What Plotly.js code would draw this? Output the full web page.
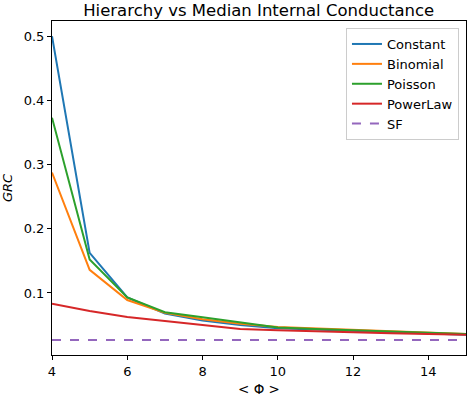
<!DOCTYPE html>
<html>
<head>
<meta charset="utf-8">
<script src="https://cdn.plot.ly/plotly-3.0.1.min.js"></script>
<style>
  html, body { margin: 0; padding: 0; background: #fff; }
  #chart { width: 467px; height: 397px; }
</style>
</head>
<body>
<div id="chart"></div>
<script>
const degrees = [4, 5, 6, 7, 8, 9, 10, 11, 12, 13, 14, 15];
const constant = [0.500, 0.1625, 0.093, 0.068, 0.057, 0.050, 0.045, 0.043, 0.041, 0.039, 0.037, 0.035];
const binomial = [0.2875, 0.136, 0.089, 0.069, 0.059, 0.052, 0.047, 0.045, 0.043, 0.041, 0.039, 0.036];
const poisson = [0.373, 0.152, 0.093, 0.070, 0.062, 0.054, 0.046, 0.044, 0.042, 0.040, 0.038, 0.036];
const powerLaw = [0.083, 0.072, 0.0625, 0.056, 0.050, 0.044, 0.042, 0.040, 0.0385, 0.037, 0.036, 0.035];
const sfValue = 0.0266;

const colors = {
  blue: "#1f77b4",
  orange: "#ff7f0e",
  green: "#2ca02c",
  red: "#d62728",
  purple: "#9467bd",
};

const line = (y, name, color) => ({
  x: degrees, y, name, type: "scatter", mode: "lines",
  line: { color, width: 2 },
});

const traces = [
  line(constant, "Constant", colors.blue),
  line(binomial, "Binomial", colors.orange),
  line(poisson, "Poisson", colors.green),
  line(powerLaw, "PowerLaw", colors.red),
  {
    x: [degrees[0], degrees[degrees.length - 1]],
    y: [sfValue, sfValue],
    name: "SF", type: "scatter", mode: "lines",
    line: { color: colors.purple, width: 2, dash: "dash" },
  },
];

const axis = {
  showline: true, mirror: true, linecolor: "#000", linewidth: 1,
  ticks: "outside", ticklen: 4, tickcolor: "#000",
  showgrid: false, zeroline: false,
  tickfont: { size: 13, color: "#000" },
};

const layout = {
  width: 467, height: 397,
  paper_bgcolor: "#fff", plot_bgcolor: "#fff",
  font: { family: "DejaVu Sans, sans-serif", color: "#000" },
  margin: { l: 52, r: 1, t: 21, b: 42 },
  title: { text: "Hierarchy vs Median Internal Conductance", font: { size: 16.5 }, x: 0.554, xanchor: "center", y: 0.975, yanchor: "middle" },
  xaxis: { ...axis, range: [4, 15], tickvals: [4, 6, 8, 10, 12, 14],
    title: { text: "< Φ >", font: { size: 13.5 }, standoff: 6 } },
  yaxis: { ...axis, range: [0.0033, 0.5237], tickvals: [0.1, 0.2, 0.3, 0.4, 0.5],
    title: { text: "<i>GRC</i>", font: { size: 13 }, standoff: 8 } },
  legend: {
    x: 0.983, xanchor: "right", y: 0.979, yanchor: "top",
    bgcolor: "#fff", bordercolor: "#ccc", borderwidth: 1,
    font: { size: 13 }, tracegroupgap: 0, itemwidth: 30,
  },
  showlegend: true,
};

Plotly.newPlot("chart", traces, layout, { displayModeBar: false, staticPlot: true });
</script>
</body>
</html>
